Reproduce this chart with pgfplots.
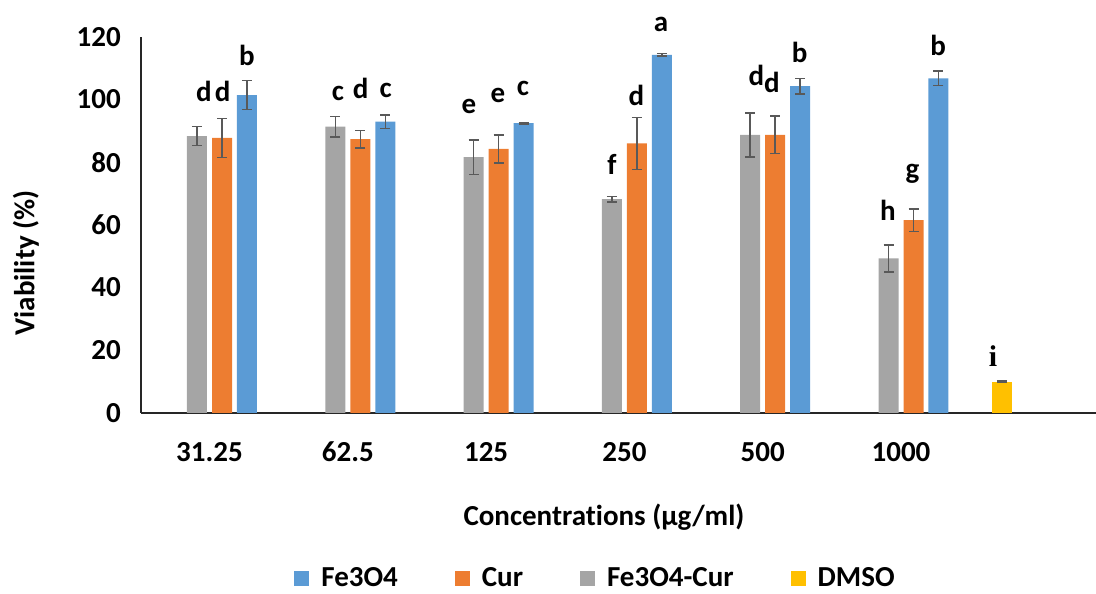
\documentclass[border=0pt]{standalone}
\usepackage{fontspec}
\setmainfont{Carlito}[Ligatures={NoCommon}]
\newfontfamily\serifface{Liberation Serif}
\usepackage{pgfplots}
\pgfplotsset{compat=1.18}
\definecolor{cblue}{HTML}{5B9BD5}
\definecolor{corange}{HTML}{ED7D31}
\definecolor{cgray}{HTML}{A5A5A5}
\definecolor{cyellow}{HTML}{FFC000}
\definecolor{errc}{HTML}{595959}
\newcommand\lab{\fontsize{29}{32}\selectfont\bfseries}
\pgfplotsset{lg/.style={legend image code/.code={\fill[##1] (0pt,-7.5pt) rectangle (15pt,7.5pt); \path (25pt,0pt);}}}
\begin{document}
\begin{tikzpicture}[x=1pt,y=1pt]
\useasboundingbox (0,0) rectangle (1096,594);
\begin{axis}[
  at={(141pt,181pt)}, anchor=south west,
  scale only axis, width=955pt, height=376.3pt,
  xmin=-0.4953, xmax=6.41, ymin=0, ymax=120,
  axis x line*=bottom, axis y line*=left,
  axis line style={line width=2pt, black!85},
  ytick={0,20,...,120},
  xtick={0,1,2,3,4,5},
  xticklabels={31.25,62.5,125,250,500,1000},
  major tick length=0pt,
  /pgf/number format/assume math mode=true,
  yticklabel style={font=\lab, anchor=east, inner sep=0pt, xshift=-20pt},
  xticklabel style={font=\lab, anchor=base, inner sep=0pt, yshift=-48.5pt},
  xlabel={Concentrations (µg/ml)},
  ylabel={Viability (\%)},
  xlabel style={font=\lab, at={(axis description cs:0.4848,-0.2764)}, anchor=center},
  ylabel style={font=\lab, at={(axis description cs:-0.1204,0.3986)}, anchor=center},
  ybar, bar width=0.1446,
  clip=false,
  error bars/y dir=both, error bars/y explicit,
  error bars/error bar style={line width=1.5pt, errc},
  error bars/error mark options={rotate=90, mark size=5pt, line width=1.5pt, errc},
  legend columns=4,
  legend style={at={(axis description cs:0.4759,-0.4385)}, anchor=center, draw=none,
    font=\lab, /tikz/every even column/.append style={column sep=55pt}},
]
\addplot[fill=cblue, draw=none, bar shift=0.2711, lg] coordinates {
  (0,101.4) +- (0,4.6)
  (1,92.9) +- (0,2.1)
  (2,92.4) +- (0,0.3)
  (3,114.2) +- (0,0.4)
  (4,104.2) +- (0,2.4)
  (5,106.7) +- (0,2.3)
};
\addplot[fill=corange, draw=none, bar shift=0.0904, lg] coordinates {
  (0,87.7) +- (0,6.2)
  (1,87.3) +- (0,2.8)
  (2,84.2) +- (0,4.4)
  (3,86.0) +- (0,8.3)
  (4,88.7) +- (0,6.0)
  (5,61.5) +- (0,3.6)
};
\addplot[fill=cgray, draw=none, bar shift=-0.0904, lg] coordinates {
  (0,88.3) +- (0,3.0)
  (1,91.3) +- (0,3.3)
  (2,81.6) +- (0,5.5)
  (3,68.2) +- (0,0.9)
  (4,88.7) +- (0,7.0)
  (5,49.3) +- (0,4.3)
};
\addplot[fill=cyellow, draw=none, bar shift=-0.2711, lg] coordinates {
  (6,9.95) +- (0,0.3)
};
\legend{Fe3O4,Cur,Fe3O4-Cur,DMSO}
% significance letters
\node[font=\lab] at (-0.040,102.7) {d};
\node[font=\lab] at (0.095,102.7) {d};
\node[font=\lab] at (0.271,114.1) {b};
\node[font=\lab] at (0.929,101.9) {c};
\node[font=\lab] at (1.093,103.4) {d};
\node[font=\lab] at (1.274,103.0) {c};
\node[font=\lab] at (1.876,97.7) {e};
\node[font=\lab] at (2.086,101.3) {e};
\node[font=\lab] at (2.267,103.4) {c};
\node[font=\lab] at (2.910,79.2) {f};
\node[font=\lab] at (3.087,101.2) {d};
\node[font=\lab] at (3.265,123.9) {a};
\node[font=\lab] at (3.955,107.5) {d};
\node[font=\lab] at (4.067,105.5) {d};
\node[font=\lab] at (4.267,115.0) {b};
\node[font=\lab] at (4.906,64.5) {h};
\node[font=\lab] at (5.084,76.2) {g};
\node[font=\lab] at (5.268,117.1) {b};
\node[font=\serifface\fontsize{30}{32}\selectfont\bfseries] at (5.665,18.3) {i};
\end{axis}
\end{tikzpicture}
\end{document}
